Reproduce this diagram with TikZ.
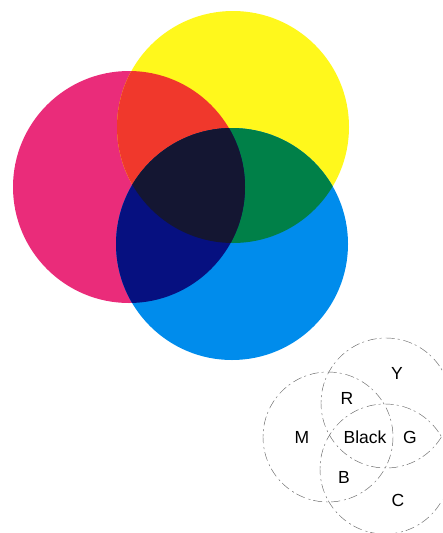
\documentclass[tikz,border=0pt]{standalone}
\usepackage{fontspec}
\setmainfont{Liberation Sans}
\definecolor{cmag}{RGB}{234,44,122}
\definecolor{cyel}{RGB}{255,248,28}
\definecolor{ccya}{RGB}{0,140,236}
\definecolor{cred}{RGB}{240,56,44}
\definecolor{cgrn}{RGB}{0,128,72}
\definecolor{cblu}{RGB}{6,16,128}
\definecolor{cblk}{RGB}{20,22,50}
\tikzset{
  lbl/.style={font=\fontsize{17.5}{20}\selectfont, inner sep=0pt},
  ring/.style={draw=black!60, line width=0.45pt, dash pattern=on 9pt off 3pt on 2pt off 4pt}
}
\begin{document}
\begin{tikzpicture}[x=1pt,y=-1pt]
\useasboundingbox (0,0) rectangle (442,533);
\def\R{116}
% big circles
\fill[cmag] (129,187) circle (\R);
\fill[cyel] (233,127) circle (\R);
\fill[ccya] (232,244) circle (\R);
\begin{scope}
  \clip (129,187) circle (\R);
  \fill[cred] (233,127) circle (\R);
\end{scope}
\begin{scope}
  \clip (233,127) circle (\R);
  \fill[cgrn] (232,244) circle (\R);
\end{scope}
\begin{scope}
  \clip (129,187) circle (\R);
  \fill[cblu] (232,244) circle (\R);
\end{scope}
\begin{scope}
  \clip (129,187) circle (\R);
  \clip (233,127) circle (\R);
  \fill[cblk] (232,244) circle (\R);
\end{scope}
% small key diagram
\begin{scope}
  \clip (0,0) rectangle (442,533);
  \draw[ring] (328,437) circle (65);
  \draw[ring] (386,403) circle (65);
  \draw[ring] (385,469) circle (65);
\end{scope}
\node[lbl] (Y) at (397,373) {Y};
\node[lbl] (R) at (347,398) {R};
\node[lbl] (M) at (302,437) {M};
\node[lbl] (K) at (365,437) {Black};
\node[lbl] (G) at (410,437) {G};
\node[lbl] (B) at (344,477) {B};
\node[lbl] (C) at (398,500) {C};
\end{tikzpicture}
\end{document}
